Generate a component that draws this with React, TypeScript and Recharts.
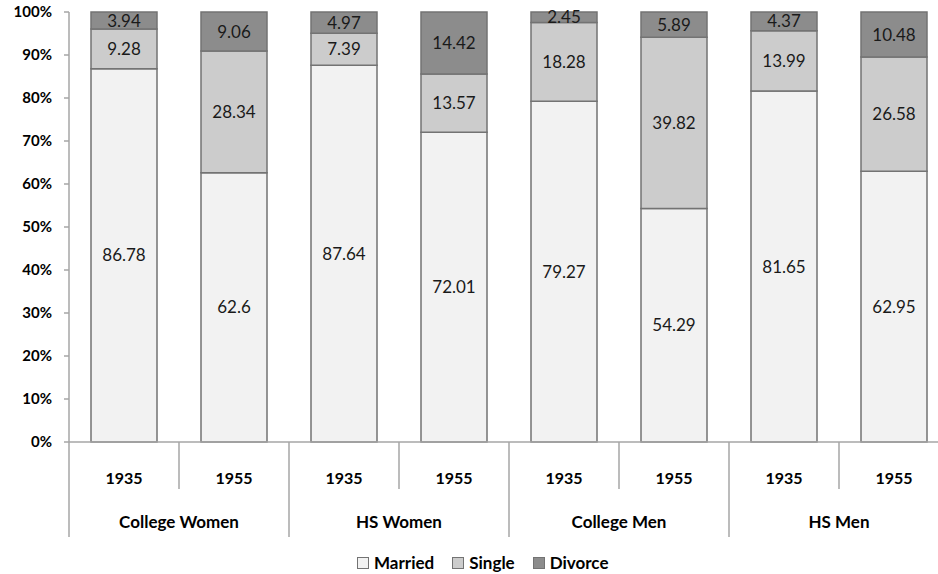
import { Bar, BarChart, LabelList, Legend, XAxis, YAxis } from "recharts";

const groups = ["College Women", "College Women", "HS Women", "HS Women", "College Men", "College Men", "HS Men", "HS Men"];
const years = ["1935", "1955", "1935", "1955", "1935", "1955", "1935", "1955"];
const married = [86.78, 62.6, 87.64, 72.01, 79.27, 54.29, 81.65, 62.95];
const single = [9.28, 28.34, 7.39, 13.57, 18.28, 39.82, 13.99, 26.58];
const divorce = [3.94, 9.06, 4.97, 14.42, 2.45, 5.89, 4.37, 10.48];
const yTicks = [0, 0.1, 0.2, 0.3, 0.4, 0.5, 0.6, 0.7, 0.8, 0.9, 1];

const series = [
  { key: "married", name: "Married", color: "#f2f2f2" },
  { key: "single", name: "Single", color: "#cccccc" },
  { key: "divorce", name: "Divorce", color: "#8c8c8c" },
];

const data = years.map((y, i) => ({
  id: `${groups[i]}-${y}`,
  year: y,
  group: groups[i],
  married: married[i],
  single: single[i],
  divorce: divorce[i],
}));

const FONT = "Lato, 'Open Sans', sans-serif";
const AXIS = "#a6a6a6";
const BORDER = "#737373";
const CAT_W = 110;

function CategoryTick(props: any) {
  const { x, y, index, payload } = props;
  const row = data[payload?.index ?? index];
  const left = x - CAT_W / 2;
  const isGroupStart = index % 2 === 0;
  return (
    <g>
      <line x1={left} x2={left} y1={y} y2={isGroupStart ? y + 95 : y + 47} stroke={AXIS} strokeWidth={1.5} />
      <text x={x} y={y + 35} textAnchor="middle" dominantBaseline="central" fontFamily={FONT} fontWeight={700} fontSize={16} fill="#000">
        {row.year}
      </text>
      {!isGroupStart && (
        <text x={left} y={y + 79} textAnchor="middle" dominantBaseline="central" fontFamily={FONT} fontWeight={700} fontSize={17} fill="#000">
          {row.group}
        </text>
      )}
    </g>
  );
}

function LegendContent() {
  return (
    <div style={{ display: "flex", alignItems: "center", fontFamily: FONT, fontWeight: 700, fontSize: 17, color: "#000" }}>
      {series.map((s) => (
        <div key={s.key} style={{ display: "flex", alignItems: "center", marginRight: 18 }}>
          <span style={{ width: 10, height: 10, background: s.color, border: `1px solid ${BORDER}`, marginRight: 5 }} />
          <span>{s.name}</span>
        </div>
      ))}
    </div>
  );
}

export default function App() {
  return (
    <div style={{ position: "absolute", left: 0, top: 0, width: 938, height: 574, overflow: "hidden", background: "#fff" }}>
      <BarChart
        width={950}
        height={574}
        data={data}
        stackOffset="expand"
        barCategoryGap="20%"
        margin={{ top: 12, right: 1, left: 0, bottom: 11 }}
      >
        <XAxis
          dataKey="id"
          interval={0}
          height={100}
          stroke={AXIS}
          strokeWidth={1.5}
          tickLine={false}
          tickSize={0}
          tickMargin={0}
          tick={<CategoryTick />}
        />
        <YAxis
          width={69}
          domain={[0, 1]}
          ticks={yTicks}
          interval={0}
          stroke={AXIS}
          strokeWidth={1.5}
          tickSize={5}
          tickMargin={12}
          tickFormatter={(v: number) => `${Math.round(v * 100)}%`}
          tick={{ fontFamily: FONT, fontWeight: 700, fontSize: 15, fill: "#000" }}
        />
        <Legend
          content={<LegendContent />}
          wrapperStyle={{ position: "absolute", left: 357, top: 552, width: "auto" }}
        />
        {series.map((s) => (
          <Bar
            key={s.key}
            dataKey={s.key}
            name={s.name}
            stackId="a"
            fill={s.color}
            stroke={BORDER}
            strokeWidth={1.5}
            isAnimationActive={false}
          >
            <LabelList
              dataKey={s.key}
              position="center"
              fontFamily={FONT}
              fontSize={17}
              fill="#1a1a1a"
            />
          </Bar>
        ))}
      </BarChart>
    </div>
  );
}
